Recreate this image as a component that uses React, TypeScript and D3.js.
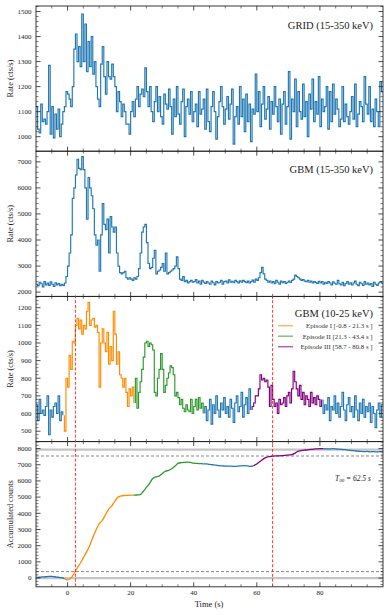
import React from "react";
import * as d3 from "d3";

// light curves, 0.5 s bins starting at -10 s
const BIN_START = -10;
const BIN_WIDTH = 0.5;

const gridRate = [
  1120, 1030, 1015, 1130, 1060, 1070, 1050, 1100, 1285, 1010,
  1120, 995, 1090, 1030, 1110, 1000, 1050, 1100, 1120, 1180,
  1170, 1150, 1120, 1200, 1350, 1410, 1300, 1360, 1280, 1490,
  1300, 1450, 1260, 1380, 1280, 1400, 1250, 1300, 1200, 1150,
  1120, 1290, 1360, 1240, 1170, 1300, 1240, 1230, 1290, 1240,
  1200, 1100, 1180, 1140, 1080, 1130, 1100, 1050, 1050, 1010,
  1100, 1140, 1080, 1150, 1200, 1120, 1170, 1190, 1160, 1275,
  1180, 1120, 1200, 1100, 1060, 1140, 1200, 1100, 1160, 1080,
  1050, 1170, 1130, 1110, 1190, 1120, 1010, 1150, 1080, 1200,
  1090, 1050, 1140, 1190, 1000, 1120, 1150, 1090, 1180, 1060,
  1100, 1130, 1040, 1180, 1090, 1110, 1150, 1030, 1190, 1060,
  1020, 1120, 1180, 1100, 990, 1080, 1140, 1200, 1120, 1050,
  1110, 1160, 1070, 1130, 1190, 970, 1080, 1120, 1050, 1200,
  1080, 1150, 1020, 1170, 1060, 1130, 980, 1110, 1090, 1250,
  1100, 1180, 1040, 1130, 1200, 1070, 1110, 1160, 1030, 1140,
  1090, 1200, 1120, 1060, 1150, 1010, 1130, 1180, 1050, 1120,
  1260, 990, 1150, 1100, 1230, 1040, 1180, 1100, 1070, 1210,
  1080, 1140, 1000, 1170, 1110, 1230, 1060, 1140, 1090, 1240,
  1040, 1150, 1100, 1120, 1200, 1030, 1180, 1060, 1210, 1090,
  1150, 1110, 1040, 1070, 1200, 1060, 1130, 1080, 1050, 1100,
  1160, 1070, 1210, 1040, 1090, 1140, 1120, 1060, 1240, 1130,
  1090, 1200, 1060, 1110, 1040, 1150, 1100, 1040, 1220, 1180,
];

const gbmHighRate = [
  2300, 2250, 2380, 2320, 2200, 2400, 2280, 2350, 2260, 2390,
  2300, 2220, 2360, 2280, 2330, 2250, 2300, 2260, 2350, 2600,
  3000, 3500, 4200, 5600, 6000, 6500, 7100, 6750, 6700, 7200,
  6700, 6000, 4800, 6400, 6000, 5700, 5200, 4200, 3800, 4000,
  2800, 4200, 5400, 4600, 4400, 4800, 3500, 4900, 4500, 4300,
  4500, 3500, 3000, 2750, 2700, 2750, 2800, 2550, 2500, 2550,
  2500, 2450, 2550, 2500, 2600, 2900, 3500, 4300, 4500, 4600,
  3900, 3100, 2900, 2950, 3300, 3600, 2700, 2800, 2850, 2950,
  3100, 2800, 3500, 2700, 2750, 2800, 2850, 2900, 3000, 3350,
  2900, 2500, 2450, 2600, 2400, 2450, 2350, 2400, 2450, 2380,
  2400, 2480, 2350, 2420, 2300, 2450, 2380, 2330, 2400, 2350,
  2300, 2420, 2360, 2280, 2400, 2350, 2380, 2450, 2300, 2400,
  2420, 2350, 2470, 2380, 2410, 2360, 2450, 2400, 2350, 2430,
  2380, 2450, 2400, 2360, 2420, 2350, 2400, 2460, 2380, 2500,
  2450, 2550, 2750, 2950, 2700, 2500, 2450, 2380, 2420, 2350,
  2400, 2320, 2450, 2380, 2300, 2420, 2360, 2400, 2330, 2380,
  2420, 2370, 2450, 2500, 2650, 2600, 2550, 2500, 2450, 2480,
  2420, 2400, 2450, 2380, 2420, 2350, 2400, 2370, 2330, 2410,
  2350, 2400, 2300, 2380, 2330, 2400, 2350, 2280, 2390, 2340,
  2300, 2450, 2320, 2280, 2380, 2250, 2330, 2400, 2300, 2360,
  2280, 2350, 2420, 2300, 2250, 2380, 2320, 2260, 2400, 2300,
  2350, 2280, 2330, 2220, 2380, 2300, 2260, 2350, 2400, 2340,
];

const gbmLowRate = [
  650, 560, 680, 600, 620, 590, 640, 700, 480, 620,
  580, 640, 660, 600, 700, 560, 610, 590, 500, 800,
  750, 930, 850, 1010, 1000, 1100, 1140, 1080, 1130, 1050,
  1100, 1080, 1180, 1230, 1100, 1130, 1140, 1090, 1100, 1060,
  750, 1000, 1080, 1000, 950, 1060, 880, 980, 900, 1180,
  1050, 880, 950, 820, 800, 750, 800, 720, 640, 740,
  700, 750, 660, 800, 630, 720, 780, 850, 920, 1000,
  1010, 980, 1000, 990, 960, 720, 700, 800, 850, 940,
  850, 720, 760, 800, 830, 870, 860, 820, 700, 720,
  690, 650, 680, 630, 610, 650, 620, 610, 680, 600,
  640, 680, 620, 690, 630, 660, 600, 640, 560, 620,
  680, 540, 650, 600, 700, 620, 580, 660, 620, 690,
  600, 640, 580, 680, 630, 550, 660, 700, 610, 640,
  720, 580, 650, 690, 600, 740, 620, 640, 660, 700,
  700, 740, 820, 790, 800, 780, 790, 750, 640, 760,
  680, 640, 660, 600, 680, 650, 660, 690, 640, 700,
  720, 660, 740, 840, 780, 740, 700, 760, 680, 720,
  650, 700, 680, 640, 720, 660, 690, 650, 700, 680,
  640, 680, 600, 650, 620, 690, 560, 640, 620, 700,
  600, 660, 580, 640, 720, 620, 560, 650, 690, 610,
  640, 580, 700, 620, 560, 660, 600, 680, 580, 640,
  610, 660, 550, 640, 600, 520, 620, 660, 580, 650,
];

// accumulated counts, 1 s samples from -10 s to 100 s
const CUM_START = -10;
const cumCounts = [
  30, 50, 70, 80, 100, 110, 80, 50, 20, -40,
  -110, -20, 250, 600, 900, 1250, 1600, 2000, 2500, 2950,
  3350, 3550, 3900, 4250, 4450, 4750, 5000, 5070, 5100, 5110,
  5120, 5120, 5130, 5160, 5350, 5600, 5850, 6150, 6250, 6300,
  6450, 6600, 6650, 6750, 6900, 7080, 7130, 7150, 7160, 7140,
  7100, 7080, 7070, 7060, 7050, 7020, 7000, 6980, 6950, 6930,
  6920, 6910, 6910, 6900, 6920, 6930, 6940, 6930, 6900, 6950,
  7050, 7200, 7350, 7450, 7500, 7530, 7550, 7550, 7560, 7580,
  7600, 7620, 7700, 7830, 7870, 7900, 7920, 7950, 7970, 7980,
  7990, 7990, 7980, 7980, 7990, 7980, 7960, 7950, 7930, 7900,
  7880, 7860, 7840, 7820, 7810, 7820, 7800, 7810, 7790, 7810,
  7800,
];

const episodeNames = ["Episode I", "Episode II", "Episode III"];
const episodeStart = [-0.8, 21.3, 58.7];
const episodeEnd = [21.3, 43.4, 80.8];
const t90Bounds = [2.5, 65.0];
const cumSolidLevels = [0, 7930];
const cumDashedLevels = [400, 7540];
const xMajorTicks = [0, 20, 40, 60, 80];

const BLUE = "#1f77b4";
const EP_COLORS = ["#ff8c00", "#2a9a2a", "#800080"];
const FONT = "'Liberation Serif', 'DejaVu Serif', serif";

const W = 390;
const H = 615;
const L = 36;
const R = 383;
const TOP = 6;
const PH = 145.2;

const x = d3.scaleLinear().domain([-10, 100]).range([L, R]);

const episodeColor = (t: number) => {
  for (let i = 0; i < episodeStart.length; i++) {
    if (t >= episodeStart[i] && t < episodeEnd[i]) return EP_COLORS[i];
  }
  return BLUE;
};

type Pt = { t: number; v: number };

// split a step curve into runs of the same colour
function stepRuns(values: number[], colored: boolean) {
  const runs: { color: string; pts: Pt[] }[] = [];
  values.forEach((v, i) => {
    const t = BIN_START + i * BIN_WIDTH;
    const c = colored ? episodeColor(t + BIN_WIDTH / 2) : BLUE;
    const last = runs[runs.length - 1];
    if (!last || last.color !== c) {
      const pts: Pt[] = [];
      if (i > 0) pts.push({ t, v: values[i - 1] });
      pts.push({ t, v });
      runs.push({ color: c, pts });
    } else {
      last.pts.push({ t, v });
    }
  });
  const lastRun = runs[runs.length - 1];
  lastRun.pts.push({ t: BIN_START + values.length * BIN_WIDTH, v: values[values.length - 1] });
  return runs;
}

function lineRuns(values: number[]) {
  const runs: { color: string; pts: Pt[] }[] = [];
  for (let i = 0; i < values.length - 1; i++) {
    const t0 = CUM_START + i;
    const c = episodeColor(t0 + 0.5);
    const last = runs[runs.length - 1];
    if (!last || last.color !== c) {
      runs.push({ color: c, pts: [{ t: t0, v: values[i] }, { t: t0 + 1, v: values[i + 1] }] });
    } else {
      last.pts.push({ t: t0 + 1, v: values[i + 1] });
    }
  }
  return runs;
}

const panels = [
  { label: "GRID (15-350 keV)", ylabel: "Rate (cts/s)", domain: [942, 1522], major: 100, minor: 20 },
  { label: "GBM (15-350 keV)", ylabel: "Rate (cts/s)", domain: [1835, 7410], major: 1000, minor: 200 },
  { label: "GBM (10-25 keV)", ylabel: "Rate (cts/s)", domain: [441, 1264], major: 100, minor: 20 },
  { label: "", ylabel: "Accumulated counts", domain: [-540, 8430], major: 1000, minor: 200 },
];

const Panel = ({ idx }: { idx: number }) => {
  const p = panels[idx];
  const top = TOP + idx * PH;
  const bottom = top + PH;
  const y = d3.scaleLinear().domain(p.domain).range([bottom, top]);
  const [d0, d1] = p.domain;
  const yMinor = d3.range(Math.ceil(d0 / p.minor) * p.minor, d1, p.minor);
  const yMajor = d3.range(Math.ceil(d0 / p.major) * p.major, d1, p.major);
  const xMinor = d3.range(-10, 101, 5).filter((t) => t > -10 && t < 100);
  const stepLine = d3.line<Pt>().x((d) => x(d.t)).y((d) => y(d.v)).curve(d3.curveStepAfter);
  const smoothLine = d3.line<Pt>().x((d) => x(d.t)).y((d) => y(d.v)).curve(d3.curveMonotoneX);

  let runs: { color: string; pts: Pt[] }[] = [];
  if (idx === 0) runs = stepRuns(gridRate, false);
  if (idx === 1) runs = stepRuns(gbmHighRate, false);
  if (idx === 2) runs = stepRuns(gbmLowRate, true);
  if (idx === 3) runs = lineRuns(cumCounts);

  const clipId = `clip${idx}`;
  const midY = (top + bottom) / 2;

  return (
    <g>
      <defs>
        <clipPath id={clipId}>
          <rect x={L} y={top} width={R - L} height={PH} />
        </clipPath>
      </defs>
      {idx === 3 &&
        cumSolidLevels.map((v) => (
          <line key={"s" + v} x1={L} x2={R} y1={y(v)} y2={y(v)} stroke="#c4c4c4" strokeWidth={2.2} />
        ))}
      {idx === 3 &&
        cumDashedLevels.map((v) => (
          <line key={"d" + v} x1={L} x2={R} y1={y(v)} y2={y(v)} stroke="#555" strokeWidth={0.7} strokeDasharray="3,2" />
        ))}
      <g clipPath={`url(#${clipId})`}>
        {runs.map((r, i) => (
          <path
            key={i}
            d={(idx === 3 ? smoothLine : stepLine)(r.pts) || ""}
            fill="none"
            stroke={r.color}
            strokeWidth={idx === 3 ? 1.3 : 1.15}
            strokeLinejoin="miter"
          />
        ))}
      </g>
      <rect x={L} y={top} width={R - L} height={PH} fill="none" stroke="#222" strokeWidth={0.9} />
      {/* x ticks, top and bottom, pointing in */}
      {xMajorTicks.map((t) => (
        <g key={"xm" + t}>
          <line x1={x(t)} x2={x(t)} y1={bottom} y2={bottom - 4.5} stroke="#222" strokeWidth={0.8} />
          <line x1={x(t)} x2={x(t)} y1={top} y2={top + 4.5} stroke="#222" strokeWidth={0.8} />
        </g>
      ))}
      {xMinor
        .filter((t) => !xMajorTicks.includes(t))
        .map((t) => (
          <g key={"xn" + t}>
            <line x1={x(t)} x2={x(t)} y1={bottom} y2={bottom - 2.5} stroke="#222" strokeWidth={0.6} />
            <line x1={x(t)} x2={x(t)} y1={top} y2={top + 2.5} stroke="#222" strokeWidth={0.6} />
          </g>
        ))}
      {/* y ticks */}
      {yMinor.map((v) => {
        const isMajor = Math.abs(v % p.major) < 1e-6;
        const len = isMajor ? 4.5 : 2.5;
        return (
          <g key={"y" + v}>
            <line x1={L} x2={L + len} y1={y(v)} y2={y(v)} stroke="#222" strokeWidth={isMajor ? 0.8 : 0.6} />
            <line x1={R} x2={R - len} y1={y(v)} y2={y(v)} stroke="#222" strokeWidth={isMajor ? 0.8 : 0.6} />
          </g>
        );
      })}
      {yMajor.map((v) => (
        <text key={"yl" + v} x={L - 4.5} y={y(v) + 2.3} fontSize={7} textAnchor="end" fill="#222" fontFamily={FONT}>
          {v}
        </text>
      ))}
      <text
        transform={`translate(12.5,${midY}) rotate(-90)`}
        fontSize={8.3}
        textAnchor="middle"
        fill="#222"
        fontFamily={FONT}
      >
        {p.ylabel}
      </text>
      {p.label && (
        <text x={373} y={top + (idx === 0 ? 23 : idx === 1 ? 21.5 : 21)} fontSize={10.5} textAnchor="end" fill="#222" fontFamily={FONT}>
          {p.label}
        </text>
      )}
    </g>
  );
};

export default function App() {
  const panel3Top = TOP + 2 * PH;
  const bottom = TOP + 4 * PH;
  const legendRows = episodeNames.map(
    (n, i) => `${n} [${episodeStart[i].toFixed(1)} - ${episodeEnd[i].toFixed(1)} s ]`
  );
  const t90 = (t90Bounds[1] - t90Bounds[0]).toFixed(1);
  return (
    <svg width={W} height={H} style={{ position: "absolute", left: 0, top: 0, background: "#fff" }}>
      {panels.map((_, i) => (
        <Panel key={i} idx={i} />
      ))}
      {t90Bounds.map((t) => (
        <line
          key={t}
          x1={x(t)}
          x2={x(t)}
          y1={panel3Top - 1}
          y2={bottom}
          stroke="#ff2020"
          strokeWidth={0.9}
          strokeDasharray="3,1.8"
        />
      ))}
      {legendRows.map((txt, i) => {
        const ly = 325.7 + i * 10.5;
        return (
          <g key={txt}>
            <line x1={278} x2={293} y1={ly} y2={ly} stroke={EP_COLORS[i]} strokeWidth={1.5} opacity={0.6} />
            <text x={372.5} y={ly + 2.4} fontSize={6.8} textAnchor="end" fill="#333" fontFamily={FONT}>
              {txt}
            </text>
          </g>
        );
      })}
      <text x={335} y={480.5} fontSize={7.5} fontStyle="italic" fill="#222" fontFamily={FONT}>
        <tspan>T</tspan>
        <tspan fontSize={5} dy={1.6}>90</tspan>
        <tspan dy={-1.6}>{` = ${t90} s`}</tspan>
      </text>
      {xMajorTicks.map((t) => (
        <text key={"xl" + t} x={x(t)} y={bottom + 8.2} fontSize={7} textAnchor="middle" fill="#222" fontFamily={FONT}>
          {t}
        </text>
      ))}
      <text x={(L + R) / 2 - 0.5} y={bottom + 20.5} fontSize={8.5} textAnchor="middle" fill="#222" fontFamily={FONT}>
        Time (s)
      </text>
    </svg>
  );
}
